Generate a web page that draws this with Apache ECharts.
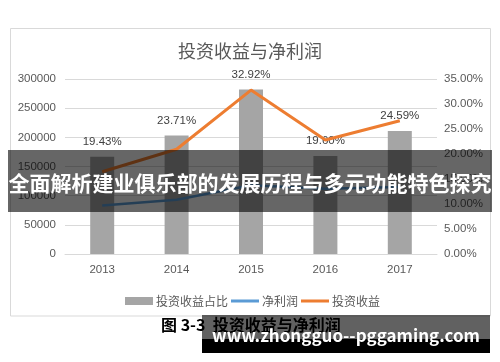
<!DOCTYPE html>
<html>
<head>
<meta charset="utf-8">
<script src="https://cdn.jsdelivr.net/npm/echarts@6/dist/echarts.min.js"></script>
<style>
html,body{margin:0;padding:0;background:#fff;}
#c{width:500px;height:362px;}
</style>
</head>
<body>
<div id="c"></div>
<script>
var years = ['2013', '2014', '2015', '2016', '2017'];
var shareRatio = [19.43, 23.71, 32.92, 19.60, 24.59];      // 投资收益占比 (%)
var netProfit = [83000, 93000, 118000, 112000, 115000];    // 净利润
var investIncome = [141000, 179500, 281000, 195500, 228500]; // 投资收益
var leftTicks = [0, 300000, 50000];
var rightTicks = [0, 35, 5];

var chart = echarts.init(document.getElementById('c'));
var cjk = '"Noto Sans CJK SC", "Microsoft YaHei", sans-serif';
var lineIcon = 'path://M0,0H0.01V0.01H0Z M0,2.6H28V5.4H0Z M27.99,7.99H28V8H27.99Z';
chart.setOption({
  animation: false,
  backgroundColor: '#fff',
  title: {
    text: '投资收益与净利润',
    left: 'center',
    top: 37,
    textStyle: {fontFamily: cjk, fontSize: 18, fontWeight: 'normal', color: '#595959'}
  },
  grid: {left: 65, right: 63, top: 79, bottom: 108},
  legend: {
    left: 120,
    top: 290,
    itemWidth: 28,
    itemHeight: 8,
    itemGap: 3,
    textStyle: {fontFamily: cjk, fontSize: 12, color: '#595959', padding: [0, 0, 0, -2]},
    data: [
      {name: '投资收益占比', icon: 'rect'},
      {name: '净利润', icon: lineIcon},
      {name: '投资收益', icon: lineIcon}
    ]
  },
  xAxis: {
    type: 'category',
    data: years,
    axisLine: {lineStyle: {color: '#d9d9d9'}},
    axisTick: {show: false},
    axisLabel: {color: '#595959', fontSize: 11.5, margin: 10, fontFamily: 'Liberation Sans, sans-serif'}
  },
  yAxis: [
    {
      type: 'value', min: leftTicks[0], max: leftTicks[1], interval: leftTicks[2],
      axisLine: {show: false}, axisTick: {show: false},
      splitLine: {lineStyle: {color: '#d9d9d9'}},
      axisLabel: {color: '#595959', fontSize: 11.5, margin: 9, fontFamily: 'Liberation Sans, sans-serif',
        formatter: function (v) { return String(v); }}
    },
    {
      type: 'value', min: rightTicks[0], max: rightTicks[1], interval: rightTicks[2],
      axisLine: {show: false}, axisTick: {show: false},
      splitLine: {show: false},
      axisLabel: {color: '#595959', fontSize: 11.5, margin: 7, fontFamily: 'Liberation Sans, sans-serif',
        formatter: function (v) { return v.toFixed(2) + '%'; }}
    }
  ],
  series: [
    {
      name: '投资收益占比', type: 'bar', yAxisIndex: 1, data: shareRatio,
      barWidth: 24,
      itemStyle: {color: '#a5a5a5'},
      label: {show: true, position: 'top', distance: 9, color: '#404040', fontSize: 11.5,
        fontFamily: 'Liberation Sans, sans-serif',
        formatter: function (p) { return p.value.toFixed(2) + '%'; }}
    },
    {
      name: '净利润', type: 'line', yAxisIndex: 0, data: netProfit,
      symbol: 'none', smooth: false,
      lineStyle: {color: '#5b9bd5', width: 2.5},
      itemStyle: {color: '#5b9bd5'}
    },
    {
      name: '投资收益', type: 'line', yAxisIndex: 0, data: investIncome,
      symbol: 'none', smooth: false,
      lineStyle: {color: '#ed7d31', width: 3},
      itemStyle: {color: '#ed7d31'}
    }
  ],
  graphic: [
    {type: 'rect', z: -1, shape: {x: 10.5, y: 28.5, width: 480, height: 287.5},
      style: {fill: 'none', stroke: '#d9d9d9', lineWidth: 1}},
    {type: 'text', z: 50, left: 161, top: 317,
      style: {text: '图 3-3  投资收益与净利润', font: 'bold 16px ' + cjk, fill: '#000'}},
    {type: 'rect', z: 60, shape: {x: 202, y: 315, width: 288, height: 24},
      style: {fill: 'rgba(0,0,0,0.62)'}},
    {type: 'rect', z: 60, shape: {x: 202, y: 339, width: 288, height: 14},
      style: {fill: '#000'}},
    {type: 'text', z: 61, left: 212, top: 327,
      style: {text: 'www.zhongguo--pggaming.com', font: 'bold 17px ' + cjk, fill: '#fff'}},
    {type: 'rect', z: 100, shape: {x: 8, y: 150, width: 484, height: 62},
      style: {fill: 'rgba(0,0,0,0.6)'}},
    {type: 'text', z: 101, left: 'center', top: 173,
      style: {text: '全面解析建业俱乐部的发展历程与多元功能特色探究', font: 'bold 21px ' + cjk, fill: '#fff'}}
  ]
});
</script>
</body>
</html>
